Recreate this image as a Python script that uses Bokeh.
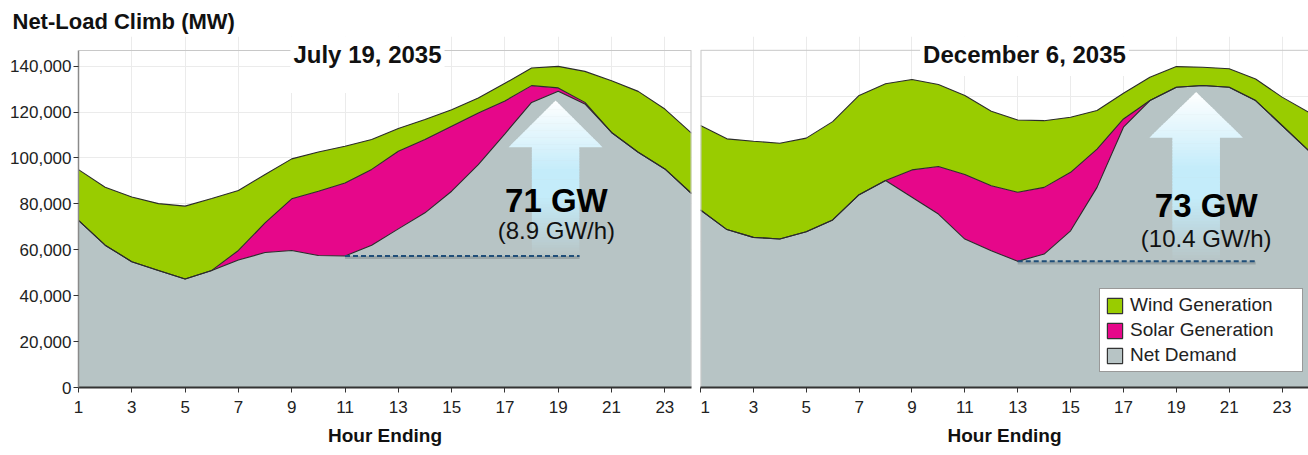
import numpy as np
from bokeh.plotting import figure
from bokeh.models import (FixedTicker, NumeralTickFormatter, Label, Legend,
                          LegendItem, Range1d, Title)
from bokeh.layouts import row
from bokeh.embed import file_html
from bokeh.resources import INLINE

# ---------------- data (MW) ----------------
hours = list(range(1, 25))

jul_net = [72800, 62000, 54800, 51000, 47300, 51000, 55500, 58800, 59700, 57500, 57300, 62000,
           69100, 76100, 85500, 97100, 110500, 124200, 129000, 123500, 111100, 102500, 95200, 84500]
jul_solar = [0, 0, 0, 0, 0, 0, 4200, 12900, 22500, 28000, 31800, 33000,
             33800, 31900, 28300, 22500, 14300, 7300, 1500, 700, 0, 0, 0, 0]
jul_wind = [22100, 25200, 28200, 29100, 31700, 31300, 26100, 21100, 17400, 17100, 16000, 13000,
            9900, 8700, 7200, 6500, 7700, 7700, 9400, 13500, 22500, 26500, 26100, 26300]

dec_net = [73200, 65100, 61900, 61200, 64200, 69100, 79500, 85300, 78400, 71500, 61200, 56400,
           52000, 55000, 64600, 82500, 107300, 118300, 123800, 124500, 123800, 118300, 108000, 97700]
dec_solar = [0, 0, 0, 0, 0, 0, 0, 0, 11300, 19600, 26600, 26800,
             28500, 27500, 24100, 15800, 3400, 0, 0, 0, 0, 0, 0, 0]
dec_wind = [34800, 37400, 39600, 39500, 38600, 40500, 40900, 39900, 37300, 33800, 32600, 30700,
            29800, 27500, 22700, 15900, 10600, 9600, 8500, 7500, 7600, 8900, 11700, 15800]

x_ticks = list(range(1, 24, 2))
y_ticks = [0, 20000, 40000, 60000, 80000, 100000, 120000, 140000]
legend_labels = ["Wind Generation", "Solar Generation", "Net Demand"]
panel_titles = ["July 19, 2035", "December 6, 2035"]
climb_big = ["71 GW", "73 GW"]
climb_small = ["(8.9 GW/h)", "(10.4 GW/h)"]
climb_start = [11, 13]   # hour of minimum net demand
climb_end = [19, 20]     # hour of peak net demand
y_top = [146800, 139000]  # top of each panel's box (MW)

GREEN = "#99cc00"
PINK = "#e6078a"
GRAY = "#b7c4c5"
EDGE = "#333333"
BORDER = "#c8c8c8"
FONT = "Liberation Sans"


def hex2rgb(h):
    h = h.lstrip("#")
    return np.array([int(h[i:i + 2], 16) for i in (0, 2, 4)], dtype=float)


def rgb2hex(c):
    c = np.clip(np.round(c), 0, 255).astype(int)
    return "#%02x%02x%02x" % tuple(c)


def make_fig(width, y_end, top, border_left, border_right, show_y, title_offset):
    p = figure(width=width, height=455, x_range=Range1d(1, 24), y_range=Range1d(0, y_end),
               output_backend="svg", toolbar_location=None,
               min_border_top=36, min_border_bottom=68,
               min_border_left=border_left, min_border_right=border_right,
               y_axis_location="left" if show_y else None)
    p.background_fill_color = "white"
    p.border_fill_color = "white"
    p.outline_line_color = None
    p.xaxis.ticker = FixedTicker(ticks=x_ticks)
    p.xaxis.major_label_text_font = FONT
    p.xaxis.major_label_text_font_size = "17px"
    p.xaxis.major_label_text_color = "#222222"
    p.xaxis.axis_line_color = EDGE
    p.xaxis.axis_line_width = 2
    p.xaxis.major_tick_line_color = EDGE
    p.xaxis.major_tick_out = 5
    p.xaxis.major_tick_in = 0
    p.xaxis.minor_tick_line_color = None
    p.xaxis.major_label_standoff = 8
    if show_y:
        p.yaxis.ticker = FixedTicker(ticks=y_ticks)
        p.yaxis.formatter = NumeralTickFormatter(format="0,0")
        p.yaxis.major_label_text_font = FONT
        p.yaxis.major_label_text_font_size = "17px"
        p.yaxis.major_label_text_color = "#222222"
        p.yaxis.axis_line_color = "#8a8a8a"
        p.yaxis.axis_line_width = 1.5
        p.yaxis.major_tick_line_color = EDGE
        p.yaxis.major_tick_out = 5
        p.yaxis.major_tick_in = 0
        p.yaxis.minor_tick_line_color = None
        p.yaxis.major_label_standoff = 2
        p.yaxis.bounds = (0, top)
    p.xgrid.ticker = FixedTicker(ticks=x_ticks)
    p.xgrid.bounds = (0, top)
    p.ygrid.ticker = FixedTicker(ticks=[t for t in y_ticks if t < top])
    p.xgrid.grid_line_color = "#ebebeb"
    p.ygrid.grid_line_color = "#ebebeb"
    p.add_layout(Title(text="Hour Ending", align="center", offset=title_offset,
                       text_font=FONT, text_font_style="bold", text_font_size="19px",
                       text_color="#111111", standoff=15), "below")
    return p


def draw_stack(p, net, solar, wind):
    s1 = np.array(net, dtype=float)
    s2 = s1 + np.array(solar, dtype=float)
    s3 = s2 + np.array(wind, dtype=float)
    p.varea(x=hours, y1=0, y2=s1, fill_color=GRAY)
    p.varea(x=hours, y1=s1, y2=s2, fill_color=PINK)
    p.varea(x=hours, y1=s2, y2=s3, fill_color=GREEN)
    for s in (s3, s2, s1):
        p.line(hours, s, line_color="#2b2b2b", line_width=1.1)


def gradient_arrow(p, xc, y_bot, y_tip, head_h, sw, hw):
    bg = hex2rgb(GRAY)
    top = np.array([255.0, 255.0, 255.0])
    cyan = np.array([196.0, 236.0, 250.0])
    y_hb = y_tip - head_h
    xs, ys, cols = [], [], []
    eps = (y_tip - y_bot) * 0.004
    edges_shaft = np.linspace(y_bot, y_hb, 41)
    edges_head = np.linspace(y_hb, y_tip, 21)

    def colour(ym):
        t = (y_tip - ym) / (y_tip - y_bot)
        c = top + (cyan - top) * min(t / 0.45, 1.0)
        a = 1.0 if t < 0.62 else max(0.0, 1.0 - (t - 0.62) / 0.38)
        return rgb2hex(c * a + bg * (1 - a))
    for i in range(len(edges_shaft) - 1):
        y0, y1 = edges_shaft[i], edges_shaft[i + 1] + eps
        xs.append([xc - sw, xc + sw, xc + sw, xc - sw])
        ys.append([y0, y0, y1, y1])
        cols.append(colour((y0 + y1) / 2))
    for i in range(len(edges_head) - 1):
        y0, y1 = edges_head[i], edges_head[i + 1]
        w0 = hw * (y_tip - y0) / head_h
        y1e = min(y1 + eps, y_tip)
        w1 = hw * (y_tip - y1e) / head_h
        xs.append([xc - w0, xc + w0, xc + w1, xc - w1])
        ys.append([y0, y0, y1e, y1e])
        cols.append(colour((y0 + y1) / 2))
    p.patches(xs, ys, fill_color=cols, line_color=None)


def climb_annot(p, net, i, arrow_x, dash_end, head_h, sw, hw, tip_gap, text_x, big_y, small_y):
    y_lo = net[climb_start[i] - 1]
    y_hi = net[climb_end[i] - 1]
    gradient_arrow(p, arrow_x, y_lo, y_hi - tip_gap, head_h, sw, hw)
    p.line([climb_start[i], dash_end], [y_lo - 700, y_lo - 700], line_color="#5f6b6c",
           line_alpha=0.35, line_width=3)
    p.line([climb_start[i], dash_end], [y_lo, y_lo], line_color="#1f4e79",
           line_width=2, line_dash="5 3")
    p.add_layout(Label(x=text_x, y=big_y, text=climb_big[i], text_align="center",
                       text_baseline="middle", text_font=FONT, text_font_style="bold",
                       text_font_size="33px", text_color="#000000"))
    p.add_layout(Label(x=text_x, y=small_y, text=climb_small[i], text_align="center",
                       text_baseline="middle", text_font=FONT, text_font_size="24px",
                       text_color="#111111"))


def panel_title(p, x_screen, i, pad_h):
    p.add_layout(Label(x=x_screen, y=333, x_units="screen", y_units="screen",
                       text=panel_titles[i], text_align="center", text_baseline="middle",
                       text_font=FONT, text_font_style="bold", text_font_size="24px",
                       text_color="#111111", background_fill_color="white",
                       padding=(3, pad_h)))


# ---------------- left panel ----------------
p1 = make_fig(700, 152900, y_top[0], 78, 9, True, -5)
p1.title.text = "Net-Load Climb (MW)"
p1.title.align = "left"
p1.title.offset = -66
p1.title.text_font = FONT
p1.title.text_font_style = "bold"
p1.title.text_font_size = "22px"
p1.title.text_color = "#111111"
p1.title.standoff = 5
draw_stack(p1, jul_net, jul_solar, jul_wind)
p1.line([1, 24], [y_top[0], y_top[0]], line_color=BORDER, line_width=1)
p1.line([24, 24], [0, y_top[0]], line_color=BORDER, line_width=2)
climb_annot(p1, jul_net, 0, arrow_x=18.9, dash_end=19.8, head_h=20300, sw=0.89, hw=1.76,
            tip_gap=4000, text_x=18.93, big_y=81500, small_y=68400)
panel_title(p1, 289, 0, 25)

# ---------------- right panel ----------------
p2 = make_fig(608, 144700, y_top[1], 0, 0, False, 18)
draw_stack(p2, dec_net, dec_solar, dec_wind)
p2.line([1, 24], [y_top[1], y_top[1]], line_color=BORDER, line_width=1)
p2.line([1, 1], [0, y_top[1]], line_color=BORDER, line_width=2)
climb_annot(p2, dec_net, 1, arrow_x=19.75, dash_end=22.0, head_h=18800, sw=0.9, hw=1.77,
            tip_gap=2700, text_x=20.13, big_y=75000, small_y=61400)
panel_title(p2, 324, 1, 8)

legend_colors = [GREEN, PINK, GRAY]
items = []
for lab, col in zip(legend_labels, legend_colors):
    r = p2.quad(left=[np.nan], right=[np.nan], top=[np.nan], bottom=[np.nan], fill_color=col,
                line_color="#333333", line_width=1.2)
    items.append(LegendItem(label=lab, renderers=[r]))
legend = Legend(items=items, location=(399, 15), orientation="vertical",
                background_fill_color="white", background_fill_alpha=1.0,
                border_line_color="#333333", border_line_width=1.5,
                label_text_font=FONT, label_text_font_size="19px", label_text_color="#222222",
                glyph_width=19, glyph_height=19, label_standoff=6, padding=5, spacing=3,
                margin=0, label_width=167, label_height=19)
p2.add_layout(legend)

layout = row(p1, p2)
open("out.html", "w").write(file_html(layout, INLINE))
